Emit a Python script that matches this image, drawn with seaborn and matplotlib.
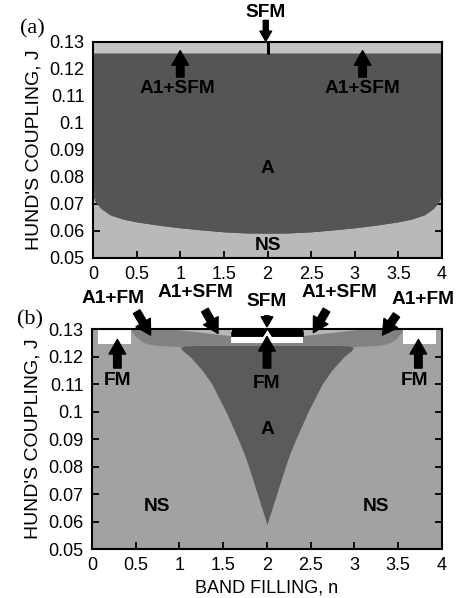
import numpy as np
import matplotlib
matplotlib.use("Agg")
import matplotlib.pyplot as plt
import seaborn as sns

sns.set_style("ticks")
plt.rcParams['font.family'] = ['Liberation Sans', 'DejaVu Sans']
plt.rcParams['text.color'] = 'black'
plt.rcParams['axes.labelcolor'] = 'black'
plt.rcParams['xtick.color'] = 'black'
plt.rcParams['ytick.color'] = 'black'

# ---------------- data ----------------
# axis ticks
x_ticks = [0, 0.5, 1, 1.5, 2, 2.5, 3, 3.5, 4]
x_tick_labels = ["0", "0.5", "1", "1.5", "2", "2.5", "3", "3.5", "4"]
y_ticks = [0.05, 0.06, 0.07, 0.08, 0.09, 0.10, 0.11, 0.12, 0.13]
y_tick_labels = ["0.05", "0.06", "0.07", "0.08", "0.09", "0.1", "0.11", "0.12", "0.13"]

# panel (a): lower boundary of the A phase
n_a = [0.0, 0.01, 0.03, 0.06, 0.1, 0.2, 0.35, 0.5, 0.75, 1.0, 1.25, 1.5, 1.75, 2.0,
       2.25, 2.5, 2.75, 3.0, 3.25, 3.5, 3.65, 3.8, 3.9, 3.94, 3.97, 3.99, 4.0]
J_a_low = [0.079, 0.0735, 0.0712, 0.0698, 0.0683, 0.0660, 0.0644, 0.0634, 0.0622, 0.0612,
           0.0604, 0.0597, 0.0593, 0.0592, 0.0593, 0.0597, 0.0604, 0.0612, 0.0622, 0.0634,
           0.0644, 0.0660, 0.0683, 0.0698, 0.0712, 0.0735, 0.079]
J_a_top = 0.1259          # A -> A1+SFM boundary
n_sfm_a = [2.0, 2.0]      # SFM line in (a)
J_sfm_a = [0.1259, 0.13]

# panel (b): A phase (cusp)
J_A = [0.0587, 0.060, 0.0625, 0.065, 0.07, 0.075, 0.08, 0.085, 0.09, 0.095, 0.10,
       0.105, 0.11, 0.115, 0.12, 0.122, 0.1232, 0.1238, 0.124]
nA_left = [2.0, 1.99, 1.965, 1.94, 1.89, 1.84, 1.79, 1.735, 1.67, 1.60, 1.53,
           1.45, 1.37, 1.26, 1.12, 1.04, 1.01, 1.05, 1.15]
nA_right = [2.0, 2.01, 2.035, 2.06, 2.11, 2.16, 2.21, 2.265, 2.33, 2.40, 2.47,
            2.55, 2.63, 2.74, 2.88, 2.96, 2.99, 2.95, 2.85]

# panel (b): A1+FM lower boundary
n_a1fm = [0.44, 0.47, 0.52, 0.58, 0.66, 0.76, 0.88, 1.0, 2.0,
          3.0, 3.12, 3.24, 3.34, 3.42, 3.48, 3.53, 3.56]
J_a1fm = [0.1300, 0.1285, 0.1266, 0.1252, 0.1244, 0.1240, 0.1238, 0.1236, 0.1236,
          0.1236, 0.1238, 0.1240, 0.1244, 0.1252, 0.1266, 0.1285, 0.1300]

# panel (b): A1+SFM slivers
n_a1sfm_l = [0.9, 1.2, 1.585]
J_a1sfm_l = [0.1300, 0.1290, 0.1276]
n_a1sfm_r = [2.415, 2.8, 3.1]
J_a1sfm_r = [0.1276, 0.1290, 0.1300]

# panel (b): FM pockets (white)
n_fm_l = [0.07, 0.45]
n_fm_r = [3.55, 3.93]
J_fm_edge = 0.1246
n_fm_c = [1.585, 2.415]
J_fm_c_low = 0.1248
# central SFM (black) with notch at n=2
n_sfm_c = [1.585, 1.6, 1.95, 2.0, 2.05, 2.4, 2.415]
J_sfm_c_low = [0.1273, 0.1273, 0.1273, 0.1298, 0.1273, 0.1273, 0.1273]
J_sfm_c_top = [0.1290, 0.1300, 0.1300, 0.1300, 0.1300, 0.1300, 0.1290]

# colours
c_A_a, c_NS_a, c_band_a = "#555555", "#b9b9b9", "#c3c3c3"
c_NS_b, c_A_b, c_A1FM, c_A1SFM = "#a2a2a2", "#5b5b5b", "#828282", "#b8b8b8"

# ---------------- figure ----------------
fig = plt.figure(figsize=(4.66, 5.98), dpi=100)
ax1 = fig.add_axes([0.1996, 0.5686, 0.7489, 0.3612])
ax2 = fig.add_axes([0.1974, 0.0819, 0.7511, 0.3679])

FS = 13
bold = dict(fontsize=13.8, fontweight="bold", ha="center", va="center", color="black")
arr = dict(arrowstyle="simple,head_width=0.8,head_length=0.7,tail_width=0.36",
           color="black", shrinkA=0, shrinkB=0, mutation_scale=15)
arr_small = dict(arrowstyle="simple,head_width=0.7,head_length=0.6,tail_width=0.3",
                 color="black", shrinkA=0, shrinkB=0, mutation_scale=12)

def style(ax):
    ax.set_xlim(0, 4)
    ax.set_ylim(0.05, 0.13)
    ax.set_xticks(x_ticks)
    ax.set_xticklabels(x_tick_labels)
    ax.set_yticks(y_ticks)
    ax.set_yticklabels(y_tick_labels)
    ax.tick_params(direction="in", length=5, width=1.3, top=True, right=True,
                   labelsize=FS, pad=6, colors="black")
    for s in ax.spines.values():
        s.set_linewidth(1.5)
        s.set_color("black")
        s.set_zorder(10)
    ax.set_ylabel("HUND'S COUPLING, J", fontsize=14, labelpad=5)

# ---- panel (a)
ax1.set_facecolor(c_NS_a)
ax1.fill_between(n_a, J_a_low, J_a_top, color=c_A_a, lw=0)
sns.lineplot(x=n_a, y=J_a_low, ax=ax1, color=c_A_a, lw=0.8)
ax1.fill_between([0, 4], J_a_top, 0.13, color=c_band_a, lw=0)
ax1.plot(n_sfm_a, J_sfm_a, color="black", lw=2.2)
style(ax1)

ax1.text(2.0, 0.0833, "A", **bold)
ax1.text(2.0, 0.0548, "NS", **bold)
ax1.text(0.97, 0.1126, "A1+SFM", **bold)
ax1.text(3.09, 0.1126, "A1+SFM", **bold)
ax1.annotate("", xy=(1.0, 0.1268), xytext=(1.0, 0.1170), arrowprops=arr)
ax1.annotate("", xy=(3.09, 0.1268), xytext=(3.09, 0.1170), arrowprops=arr)
ax1.text(1.98, 0.1409, "SFM", clip_on=False, **bold)
ax1.annotate("", xy=(1.98, 0.1303), xytext=(1.98, 0.1380), arrowprops=arr_small,
             annotation_clip=False)

# ---- panel (b)
ax2.set_facecolor(c_NS_b)
ax2.fill_between(n_a1fm, J_a1fm, 0.13, color=c_A1FM, lw=0)
ax2.fill_betweenx(J_A, nA_left, nA_right, color=c_A_b, lw=0)
ax2.fill_between(n_a1sfm_l, J_a1sfm_l, 0.13, color=c_A1SFM, lw=0)
ax2.fill_between(n_a1sfm_r, J_a1sfm_r, 0.13, color=c_A1SFM, lw=0)
ax2.fill_between(n_fm_l, J_fm_edge, 0.13, color="white", lw=0)
ax2.fill_between(n_fm_r, J_fm_edge, 0.13, color="white", lw=0)
ax2.fill_between(n_fm_c, J_fm_c_low, 0.13, color="white", lw=0)
ax2.fill_between(n_sfm_c, J_sfm_c_low, J_sfm_c_top, color="black", lw=0)
style(ax2)
ax2.set_xlabel("BAND FILLING, n", fontsize=FS, labelpad=4)

ax2.text(2.0, 0.0933, "A", **bold)
ax2.text(0.74, 0.0653, "NS", **bold)
ax2.text(3.25, 0.0653, "NS", **bold)
for xx, yy in [(0.29, 0.1112), (2.0, 0.1103), (3.69, 0.1112)]:
    ax2.text(xx, yy, "FM", **bold)
ax2.annotate("", xy=(0.29, 0.1262), xytext=(0.29, 0.1158), arrowprops=arr)
ax2.annotate("", xy=(2.0, 0.1273), xytext=(2.0, 0.1158), arrowprops=arr)
ax2.annotate("", xy=(3.73, 0.1262), xytext=(3.73, 0.1158), arrowprops=arr)

ax2.text(0.24, 0.1412, "A1+FM", clip_on=False, **bold)
ax2.text(1.18, 0.1431, "A1+SFM", clip_on=False, **bold)
ax2.text(2.0, 0.1399, "SFM", clip_on=False, **bold)
ax2.text(2.83, 0.1431, "A1+SFM", clip_on=False, **bold)
ax2.text(3.78, 0.1407, "A1+FM", clip_on=False, **bold)
for (x0, y0, x1, y1) in [(0.51, 0.1363, 0.67, 0.1278), (1.29, 0.1369, 1.44, 0.1284),
                         (2.68, 0.1369, 2.53, 0.1287), (3.48, 0.1351, 3.32, 0.1278)]:
    ax2.annotate("", xy=(x1, y1), xytext=(x0, y0), arrowprops=arr, annotation_clip=False)
ax2.annotate("", xy=(2.0, 0.1308), xytext=(2.0, 0.1348), arrowprops=arr_small,
             annotation_clip=False)

fig.text(32 / 466, 1 - 29 / 598, "(a)", fontsize=16, family=["Liberation Serif", "DejaVu Serif"],
         ha="center", va="center", color="black")
fig.text(30 / 466, 1 - 320 / 598, "(b)", fontsize=16, family=["Liberation Serif", "DejaVu Serif"],
         ha="center", va="center", color="black")

fig.savefig("out.png", dpi=100)
